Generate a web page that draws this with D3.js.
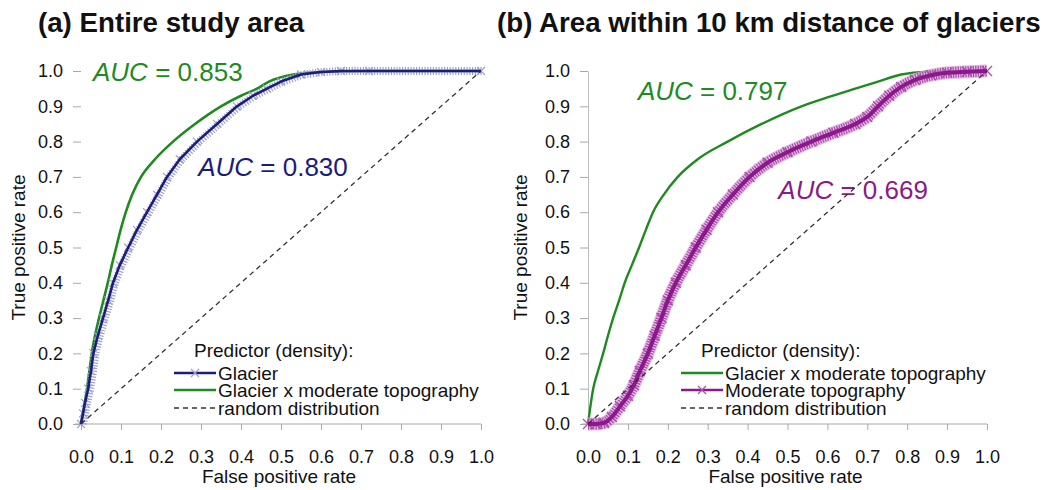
<!DOCTYPE html>
<html>
<head>
<meta charset="utf-8">
<script src="https://cdn.jsdelivr.net/npm/d3@7"></script>
<style>
  html, body { margin: 0; padding: 0; background: #fff; }
  svg { display: block; font-family: "Liberation Sans", Arial, sans-serif; }
</style>
</head>
<body>
<svg id="chart" width="1058" height="490"></svg>
<script>
// ROC curves: false positive rate (x) vs true positive rate (y)
const ticks = [0, 0.1, 0.2, 0.3, 0.4, 0.5, 0.6, 0.7, 0.8, 0.9, 1.0];

// (a) Entire study area
const aGlacierFpr = [0, 0.005, 0.01, 0.018, 0.025, 0.031, 0.042, 0.055, 0.068, 0.08, 0.097, 0.118, 0.14, 0.165, 0.19, 0.215, 0.247, 0.29, 0.34, 0.39, 0.43, 0.465, 0.5, 0.55, 0.6, 0.65, 0.72, 1.0];
const aGlacierTpr = [0, 0.03, 0.06, 0.1, 0.15, 0.2, 0.25, 0.3, 0.35, 0.4, 0.45, 0.5, 0.55, 0.6, 0.65, 0.7, 0.75, 0.8, 0.85, 0.9, 0.93, 0.95, 0.97, 0.99, 0.997, 1.0, 1.0, 1.0];
const aGxtFpr = [0, 0.008, 0.015, 0.021, 0.027, 0.035, 0.045, 0.056, 0.067, 0.077, 0.088, 0.099, 0.112, 0.128, 0.15, 0.185, 0.23, 0.285, 0.35, 0.4, 0.44, 0.47, 0.53, 0.6, 0.72, 1.0];
const aGxtTpr = [0, 0.05, 0.1, 0.15, 0.2, 0.25, 0.3, 0.35, 0.4, 0.45, 0.5, 0.55, 0.6, 0.65, 0.7, 0.75, 0.8, 0.85, 0.9, 0.93, 0.95, 0.97, 0.99, 0.997, 1.0, 1.0];

// (b) Area within 10 km distance of glaciers
const bGxtFpr = [0, 0.006, 0.013, 0.025, 0.038, 0.05, 0.063, 0.078, 0.092, 0.11, 0.128, 0.145, 0.163, 0.19, 0.225, 0.275, 0.35, 0.435, 0.535, 0.6, 0.67, 0.727, 0.785, 0.85, 1.0];
const bGxtTpr = [0, 0.05, 0.1, 0.15, 0.2, 0.25, 0.3, 0.35, 0.4, 0.45, 0.5, 0.55, 0.6, 0.65, 0.7, 0.75, 0.8, 0.85, 0.9, 0.925, 0.95, 0.97, 0.99, 0.998, 1.0];
const bTopoFpr = [0, 0.02, 0.04, 0.06, 0.08, 0.1, 0.115, 0.13, 0.15, 0.167, 0.184, 0.2, 0.22, 0.245, 0.27, 0.297, 0.326, 0.363, 0.405, 0.45, 0.5, 0.56, 0.615, 0.67, 0.7, 0.727, 0.755, 0.785, 0.82, 0.86, 0.9, 0.95, 1.0];
const bTopoTpr = [0, 0, 0.003, 0.02, 0.05, 0.08, 0.11, 0.15, 0.2, 0.25, 0.3, 0.35, 0.4, 0.45, 0.5, 0.55, 0.6, 0.65, 0.7, 0.74, 0.77, 0.8, 0.825, 0.85, 0.87, 0.9, 0.93, 0.955, 0.975, 0.988, 0.995, 0.998, 1.0];

const aucLabels = [
  { panel: 0, value: "0.853", color: "#1f8a1f", fpr: 0.03, tpr: 1.0 },
  { panel: 0, value: "0.830", color: "#1c1c7c", fpr: 0.293, tpr: 0.73 },
  { panel: 1, value: "0.797", color: "#1f8a1f", fpr: 0.125, tpr: 0.945 },
  { panel: 1, value: "0.669", color: "#8a1a8a", fpr: 0.477, tpr: 0.665 }
];

const C = {
  navy: "#1c1c7c", navyMark: "#9fa2c9",
  green: "#1f8a1f",
  purple: "#8a1a8a", purpleMark: "#b04db0", purpleHalo: "#dcb0dc",
  axis: "#a8a8a8", text: "#111"
};

const svg = d3.select("#chart");
const FONT = '"Liberation Sans", Arial, sans-serif';

const panels = [
  { x0: 81, x1: 481, title: "(a) Entire study area", titleX: 38, yAxisLine: false, yTitleX: 25 },
  { x0: 588, x1: 987, title: "(b) Area within 10 km distance of glaciers", titleX: 497, yAxisLine: true, yTitleX: 527 }
];
const yTop = 71, yBot = 424;

function zip(xs, ys) { return xs.map((v, i) => [v, ys[i]]); }

panels.forEach((p, pi) => {
  const x = d3.scaleLinear().domain([0, 1]).range([p.x0, p.x1]);
  const y = d3.scaleLinear().domain([0, 1]).range([yBot, yTop]);
  p.x = x; p.y = y;
  const g = svg.append("g");

  // title
  svg.append("text").attr("x", p.titleX).attr("y", 32)
    .attr("font-size", 27.7).attr("font-weight", "bold").attr("fill", "#111")
    .text(p.title);

  // x axis
  const xAxis = d3.axisBottom(x).tickValues(ticks).tickFormat(d3.format(".1f")).tickSize(6).tickSizeOuter(0).tickPadding(20);
  const gx = g.append("g").attr("transform", `translate(0,${yBot})`).call(xAxis);
  gx.select(".domain").attr("stroke", C.axis).attr("d", `M${p.x0 - 6},0H${p.x1}`);
  gx.selectAll(".tick line").attr("stroke", C.axis);
  gx.selectAll(".tick text").attr("font-size", 18).attr("font-family", FONT).attr("fill", C.text);

  // y axis
  const yAxis = d3.axisLeft(y).tickValues(ticks).tickFormat(d3.format(".1f")).tickSize(8).tickSizeOuter(0).tickPadding(10);
  const gy = g.append("g").attr("transform", `translate(${p.x0},0)`).call(yAxis);
  gy.select(".domain").attr("stroke", p.yAxisLine ? "#bdbdbd" : "none");
  gy.selectAll(".tick line").attr("stroke", C.axis);
  gy.selectAll(".tick text").attr("font-size", 18).attr("font-family", FONT).attr("fill", C.text);

  // axis titles
  svg.append("text").attr("x", (p.x0 + p.x1) / 2 - 2).attr("y", 483)
    .attr("text-anchor", "middle").attr("font-size", 19).attr("fill", C.text)
    .text("False positive rate");
  svg.append("text").attr("transform", `translate(${p.yTitleX},${(yTop + yBot) / 2}) rotate(-90)`)
    .attr("text-anchor", "middle").attr("font-size", 19).attr("fill", C.text)
    .text("True positive rate");
});

const line = (p, curve) => d3.line().x(d => p.x(d[0])).y(d => p.y(d[1])).curve(curve || d3.curveLinear);
const smooth = d3.curveMonotoneX;

// x-shaped markers
function drawMarkers(g, p, pts, color, size, width) {
  g.selectAll(null).data(pts).enter().append("path")
    .attr("d", d => {
      const cx = p.x(d[0]), cy = p.y(d[1]), s = size;
      return `M${cx - s},${cy - s}L${cx + s},${cy + s}M${cx - s},${cy + s}L${cx + s},${cy - s}`;
    })
    .attr("stroke", color).attr("stroke-width", width).attr("fill", "none");
}

// --- panel (a) curves
{
  const p = panels[0];
  const g = svg.append("g");
  const gl = zip(aGlacierFpr, aGlacierTpr);
  const gx = zip(aGxtFpr, aGxtTpr);
  g.append("path").datum(gx).attr("d", line(p, smooth)).attr("fill", "none")
    .attr("stroke", C.green).attr("stroke-width", 2.6).attr("stroke-linejoin", "round");
  // dense marker band of the Glacier series
  g.append("path").datum(gl).attr("d", line(p)).attr("fill", "none")
    .attr("stroke", C.navyMark).attr("stroke-width", 8).attr("stroke-dasharray", "1.2,1.6")
    .attr("transform", "translate(2,0)");
  drawMarkers(g, p, gl, C.navyMark, 4, 1.2);
  g.append("path").datum(gl).attr("d", line(p)).attr("fill", "none")
    .attr("stroke", C.navy).attr("stroke-width", 2.6).attr("stroke-linejoin", "round");
}

// --- panel (b) curves
{
  const p = panels[1];
  const g = svg.append("g");
  const gx = zip(bGxtFpr, bGxtTpr);
  const tp = zip(bTopoFpr, bTopoTpr);
  g.append("path").datum(gx).attr("d", line(p, smooth)).attr("fill", "none")
    .attr("stroke", C.green).attr("stroke-width", 2.4).attr("stroke-linejoin", "round");
  g.append("path").datum(tp).attr("d", line(p, smooth)).attr("fill", "none")
    .attr("stroke", C.purpleHalo).attr("stroke-width", 13).attr("stroke-linejoin", "round").attr("opacity", 0.8);
  g.append("path").datum(tp).attr("d", line(p, smooth)).attr("fill", "none")
    .attr("stroke", C.purpleMark).attr("stroke-width", 11).attr("stroke-dasharray", "1.3,1.2");
  drawMarkers(g, p, tp, C.purpleMark, 5, 1.4);
  g.append("path").datum(tp).attr("d", line(p, smooth)).attr("fill", "none")
    .attr("stroke", C.purple).attr("stroke-width", 4).attr("stroke-linejoin", "round");
}

// AUC labels
aucLabels.forEach(a => {
  const p = panels[a.panel];
  const t = svg.append("text").attr("x", p.x(a.fpr)).attr("y", p.y(a.tpr) + 10)
    .attr("font-size", 26).attr("fill", a.color);
  t.append("tspan").attr("font-style", "italic").text("AUC");
  t.append("tspan").text(" = " + a.value);
});

// random distribution diagonal
panels.forEach(p => {
  svg.append("path").datum([[0, 0], [1, 1]]).attr("d", line(p)).attr("fill", "none")
    .attr("stroke", "#333").attr("stroke-width", 1.3).attr("stroke-dasharray", "5,4");
});

// legends
const legends = [
  { panel: 0, x: 174, items: [
    { label: "Glacier", color: C.navy, marker: C.navyMark },
    { label: "Glacier x moderate topography", color: C.green },
    { label: "random distribution", dash: true } ] },
  { panel: 1, x: 681, items: [
    { label: "Glacier x moderate topography", color: C.green },
    { label: "Moderate topography", color: C.purple, marker: C.purpleMark },
    { label: "random distribution", dash: true } ] }
];
const rowY = [373, 390, 408];
legends.forEach(L => {
  const g = svg.append("g");
  g.append("text").attr("x", L.x + 20).attr("y", 357).attr("font-size", 19).attr("fill", C.text)
    .text("Predictor (density):");
  L.items.forEach((it, i) => {
    const yy = rowY[i];
    g.append("line").attr("x1", L.x).attr("x2", L.x + 42).attr("y1", yy).attr("y2", yy)
      .attr("stroke", it.dash ? "#333" : it.color)
      .attr("stroke-width", it.dash ? 1.3 : 2.6)
      .attr("stroke-dasharray", it.dash ? "5,4" : null);
    if (it.marker) {
      const cx = L.x + 21, s = 4;
      g.append("path").attr("d", `M${cx - s},${yy - s}L${cx + s},${yy + s}M${cx - s},${yy + s}L${cx + s},${yy - s}`)
        .attr("stroke", it.marker).attr("stroke-width", 1.2);
    }
    g.append("text").attr("x", L.x + 44).attr("y", yy + 7).attr("font-size", 19).attr("fill", C.text)
      .text(it.label);
  });
});
</script>
</body>
</html>
